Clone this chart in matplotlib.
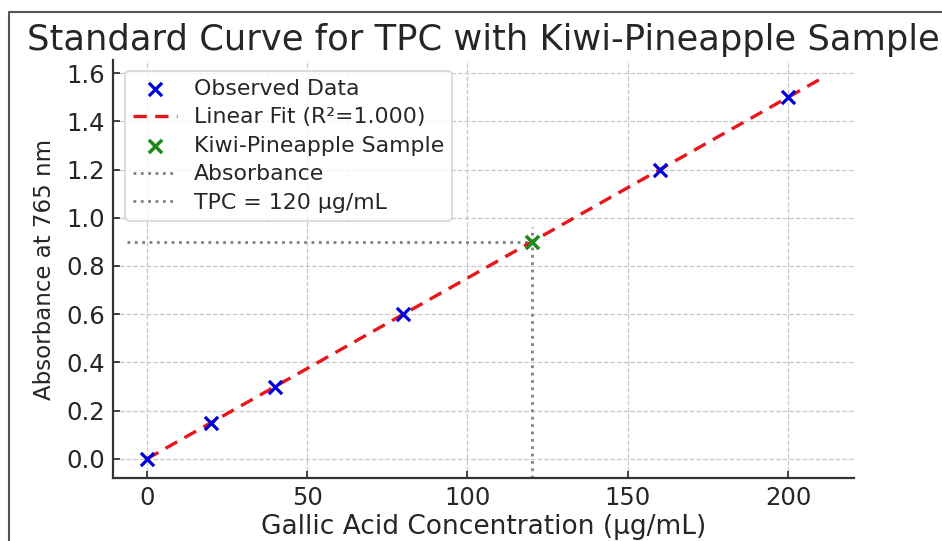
import numpy as np
import matplotlib
matplotlib.use("Agg")
import matplotlib.pyplot as plt
from matplotlib.lines import Line2D

# standard curve data
conc = [0, 20, 40, 80, 160, 200]
absorb = [0.0, 0.15, 0.30, 0.60, 1.20, 1.50]
# sample
sample_conc = 120
sample_abs = 0.9
# fit drawn over
fit_x = [0, 210]
# reference line extents
hline_start = -6
vline_top = 0.96
yticks = [0.0, 0.2, 0.4, 0.6, 0.8, 1.0, 1.2, 1.4, 1.6]
xticks = [0, 50, 100, 150, 200]

slope, intercept = np.polyfit(conc, absorb, 1)
pred = np.polyval([slope, intercept], conc)
r2 = 1 - np.sum((np.array(absorb) - pred) ** 2) / np.sum((np.array(absorb) - np.mean(absorb)) ** 2)
fit_y = np.polyval([slope, intercept], fit_x)

txt = '#262626'
plt.rcParams['text.color'] = txt
plt.rcParams['axes.labelcolor'] = txt
plt.rcParams['xtick.color'] = txt
plt.rcParams['ytick.color'] = txt

fig = plt.figure(figsize=(9.42, 5.41), dpi=100)
ax = fig.add_axes([0.12, 0.1165, 0.7866, 0.7725])

ax.scatter(conc, absorb, marker='x', color='#0000dd', s=90, linewidths=2.3,
           label='Observed Data', zorder=4)
ax.plot(fit_x, fit_y, color='#e8161b', ls='--', lw=2.4, dashes=(4, 2.5),
        label='Linear Fit (R²=%.3f)' % r2, zorder=3)
ax.scatter([sample_conc], [sample_abs], marker='x', color='#1a8a1a', s=90,
           linewidths=2.5, label='Kiwi-Pineapple Sample', zorder=5)

ax.set_xlim(-10.5, 220.5)
ax.set_ylim(-0.07875, 1.65375)
ax.hlines(sample_abs, hline_start, sample_conc, colors='gray', linestyles=':',
          lw=2, label='Absorbance', zorder=2)
ax.vlines(sample_conc, -0.07875, vline_top, colors='gray', linestyles=':',
          lw=2, label='TPC = %d µg/mL' % sample_conc, zorder=2)

ax.grid(True, ls='--', color='#c8c8c8', lw=0.9)
ax.set_axisbelow(True)
for s in ['top', 'right']:
    ax.spines[s].set_visible(False)
for s in ['left', 'bottom']:
    ax.spines[s].set_linewidth(1.6)
    ax.spines[s].set_color('#333333')
ax.tick_params(direction='in', length=5, width=1.2, labelsize=17.5, pad=6)
ax.set_xticks(xticks)
ax.set_yticks(yticks)
ax.set_yticklabels(['%.1f' % v for v in yticks])

ax.set_xlabel('Gallic Acid Concentration (µg/mL)', fontsize=19, labelpad=3)
ax.set_ylabel('Absorbance at 765 nm', fontsize=16.5, labelpad=7)
ax.set_title('Standard Curve for TPC with Kiwi-Pineapple Sample', fontsize=25.4,
             pad=7)

leg = ax.legend(loc='upper left', fontsize=15.8, frameon=True, fancybox=True,
                borderpad=0.35, labelspacing=0.39, handlelength=2.0,
                bbox_to_anchor=(0.0015, 1.0))
leg.get_frame().set_edgecolor('#cccccc')
leg.get_frame().set_linewidth(1.2)

# outer border
fig.add_artist(Line2D([9 / 942, 9 / 942, 1.0], [0.0, 1 - 12 / 541, 1 - 12 / 541],
                      transform=fig.transFigure, color='#555555', lw=1.5))

fig.savefig('out.png', dpi=100)
